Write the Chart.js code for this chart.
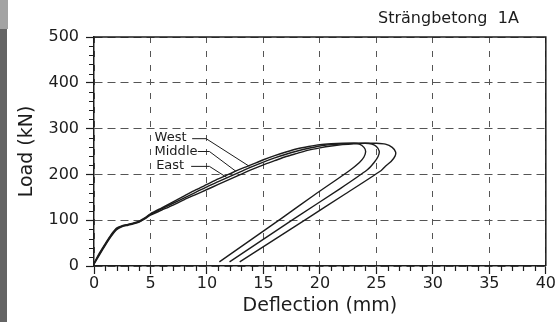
<!DOCTYPE html>
<html>
<head>
<meta charset="utf-8">
<script src="https://cdn.jsdelivr.net/npm/chart.js@4.4.0/dist/chart.umd.min.js"></script>
<style>
  html, body { margin: 0; padding: 0; background: #fff; }
</style>
</head>
<body>
<canvas id="myChart" width="556" height="322"></canvas>
<script>
// load-deflection curves
const westX = [0, 0.5, 1, 1.5, 2, 2.5, 3, 3.5, 4, 4.5, 5, 6, 7, 8, 9, 10, 11, 12, 13, 14, 15, 16, 17, 18, 19, 20, 21, 22, 23,
    23.5, 23.9, 24.05, 23.9, 23.5, 22.6, 19.5, 16.6, 11.1];
const westY = [6, 29, 49, 68, 83, 88, 91, 94, 98, 105, 114, 127, 140, 153, 166, 178, 190, 201, 212, 222, 232, 241, 249, 256, 261, 265, 267, 268, 268,
    266, 259, 250, 238, 226, 208, 155, 104, 9];

const middleX = [0, 0.5, 1, 1.5, 2, 2.5, 3, 3.5, 4, 4.5, 5, 6, 7, 8, 9, 10, 11, 12, 13, 14, 15, 16, 17, 18, 19, 20, 21, 22, 23, 24,
    24.6, 25.0, 25.25, 25.15, 24.8, 24.2, 21.8, 17.7, 12.0];
const middleY = [5, 27, 47, 66, 81, 87, 90, 93, 97, 104, 113, 125, 137, 149, 161, 173, 184, 195, 206, 217, 227, 236, 244, 251, 257, 262, 265, 267, 268, 268,
    266, 261, 251, 239, 226, 210, 169, 103, 9];

const eastX = [0, 0.5, 1, 1.5, 2, 2.5, 3, 3.5, 4, 4.5, 5, 6, 7, 8, 9, 10, 11, 12, 13, 14, 15, 16, 17, 18, 19, 20, 21, 22, 23, 24, 25,
    25.8, 26.4, 26.7, 26.65, 26.3, 25.8, 25.4, 22.1, 18.9, 12.9];
const eastY = [4, 25, 45, 64, 79, 86, 89, 92, 96, 103, 111, 122, 133, 145, 156, 167, 178, 189, 200, 211, 221, 230, 239, 246, 253, 258, 262, 265, 267, 268, 268,
    266, 259, 249, 240, 228, 218, 208, 155, 104, 9];

const seriesNames = ["West", "Middle", "East"];

// where the curve names sit and their leader lines, in data units
const labelAnchors = [[5.36, 280], [5.36, 250], [5.5, 219.5]];
const leaderLines = [
    [[8.69, 278], [9.93, 278], [13.76, 217.5]],
    [[9.19, 250], [10.22, 250], [12.58, 206.5]],
    [[8.6, 217.5], [10.22, 217.5], [11.75, 193.4]]
];

const chartTitle = "Strängbetong  1A";

const FONT = "'DejaVu Sans', sans-serif";
const INK = "#1c1c1c";

function toPoints(xs, ys) {
    return xs.map((x, i) => ({ x: x, y: ys[i] }));
}

// page decorations: scan edge, frame, minor ticks, curve names, title
const paperPlugin = {
    id: "paper",
    beforeDraw(chart) {
        const c = chart.ctx;
        c.save();
        c.fillStyle = "#ffffff";
        c.fillRect(0, 0, chart.width, chart.height);
        c.fillStyle = "#a3a3a3";
        c.fillRect(0, 0, 8, 29);
        c.fillStyle = "#646464";
        c.fillRect(0, 29, 7, chart.height - 29);
        c.restore();
    },
    afterDatasetsDraw(chart) {
        const c = chart.ctx;
        const xs = chart.scales.x;
        const ys = chart.scales.y;
        const area = chart.chartArea;
        c.save();

        // minor ticks
        c.strokeStyle = INK;
        c.lineWidth = 1.2;
        c.beginPath();
        for (let v = 0; v <= 40; v++) {
            if (v % 5 === 0) continue;
            const px = Math.round(xs.getPixelForValue(v)) + 0.5;
            c.moveTo(px, area.bottom);
            c.lineTo(px, area.bottom + 5);
        }
        for (let v = 0; v <= 500; v += 20) {
            if (v % 100 === 0) continue;
            const py = Math.round(ys.getPixelForValue(v)) + 0.5;
            c.moveTo(area.left, py);
            c.lineTo(area.left - 5, py);
        }
        c.stroke();

        // top and right frame
        c.lineWidth = 1.5;
        c.beginPath();
        c.moveTo(area.left, area.top);
        c.lineTo(area.right, area.top);
        c.lineTo(area.right, area.bottom);
        c.stroke();

        // leader lines
        c.lineWidth = 1;
        leaderLines.forEach(line => {
            c.beginPath();
            line.forEach((p, i) => {
                const px = xs.getPixelForValue(p[0]);
                const py = ys.getPixelForValue(p[1]);
                if (i === 0) c.moveTo(px, py); else c.lineTo(px, py);
            });
            c.stroke();
        });

        // curve names
        c.fillStyle = INK;
        c.font = "13px " + FONT;
        c.textAlign = "left";
        c.textBaseline = "middle";
        seriesNames.forEach((name, i) => {
            const a = labelAnchors[i];
            c.fillText(name, xs.getPixelForValue(a[0]), ys.getPixelForValue(a[1]));
        });

        // title
        c.font = "16px " + FONT;
        c.textAlign = "right";
        c.fillText(chartTitle, area.right - 27, area.top - 18);
        c.restore();
    }
};

const ctx = document.getElementById("myChart");

new Chart(ctx, {
    type: "line",
    data: {
        datasets: [
            { label: seriesNames[0], data: toPoints(westX, westY) },
            { label: seriesNames[1], data: toPoints(middleX, middleY) },
            { label: seriesNames[2], data: toPoints(eastX, eastY) }
        ]
    },
    options: {
        responsive: false,
        animation: false,
        devicePixelRatio: 1,
        layout: { padding: { top: 37, right: 9, left: 0, bottom: 0 } },
        elements: {
            point: { radius: 0 },
            line: { borderColor: INK, borderWidth: 1.4, tension: 0.25, fill: false }
        },
        plugins: {
            legend: { display: false },
            tooltip: { enabled: false }
        },
        scales: {
            x: {
                type: "linear",
                min: 0,
                max: 40,
                ticks: {
                    stepSize: 5,
                    padding: 0,
                    color: INK,
                    maxRotation: 0,
                    font: { family: FONT, size: 16 }
                },
                grid: { color: "#555", lineWidth: 1, tickLength: 8, tickColor: INK, tickWidth: 1.2 },
                border: { display: true, color: INK, width: 1.5, dash: [6, 8] },
                title: {
                    display: true,
                    text: "Deflection (mm)",
                    color: INK,
                    font: { family: FONT, size: 19 },
                    padding: { top: 0, bottom: 5 }
                },
                afterFit: scale => { scale.height = 56; }
            },
            y: {
                min: 0,
                max: 500,
                ticks: {
                    stepSize: 100,
                    padding: 7,
                    color: INK,
                    font: { family: FONT, size: 16 }
                },
                grid: { color: "#555", lineWidth: 1, tickLength: 8, tickColor: INK, tickWidth: 1.2 },
                border: { display: true, color: INK, width: 1.5, dash: [8, 5] },
                title: {
                    display: true,
                    text: "Load (kN)",
                    color: INK,
                    font: { family: FONT, size: 19 },
                    padding: { top: 16, bottom: 0 }
                },
                afterFit: scale => { scale.width = 94; }
            }
        }
    },
    plugins: [paperPlugin]
});
</script>
</body>
</html>
